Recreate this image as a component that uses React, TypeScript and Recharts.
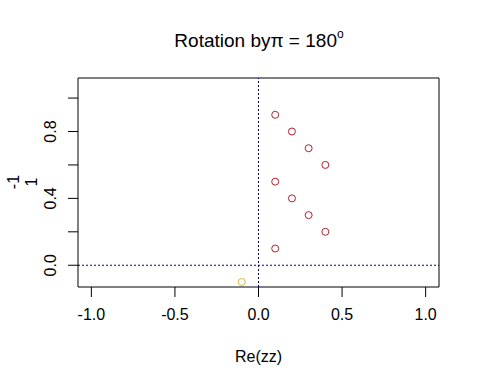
import { ScatterChart, Scatter, XAxis, YAxis, ReferenceLine, ReferenceArea } from "recharts"

// original points
const reZ = [0.1, 0.2, 0.3, 0.4, 0.1, 0.2, 0.3, 0.4, 0.1]
const imZ = [0.9, 0.8, 0.7, 0.6, 0.5, 0.4, 0.3, 0.2, 0.1]
// rotated point
const reRot = [-0.1]
const imRot = [-0.1]

const xTicks = [-1, -0.5, 0, 0.5, 1]
const yTicks = [0, 0.2, 0.4, 0.6, 0.8, 1.0]
const yLabelled = [0, 0.4, 0.8]

const font = "Arial, 'Liberation Sans', sans-serif"

const pts = reZ.map((x, i) => ({ x, y: imZ[i] }))
const rotPts = reRot.map((x, i) => ({ x, y: imRot[i] }))

const ring = (color: string) => (props: any) => (
  <circle cx={props.cx} cy={props.cy} r={3.5} fill="none" stroke={color} strokeWidth={1} />
)

const YTick = (props: any) => {
  const { x, y, payload } = props
  if (!yLabelled.some((v) => Math.abs(v - payload.value) < 1e-9)) return <g />
  return (
    <text x={x + 1} y={y} transform={`rotate(-90, ${x + 1}, ${y})`} textAnchor="middle" fontSize={16} fontFamily={font} fill="#000">
      {payload.value.toFixed(1)}
    </text>
  )
}

export default function App() {
  return (
    <div style={{ position: "absolute", left: 0, top: 0, width: 480, height: 384, background: "#fff" }}>
      <ScatterChart width={480} height={384} margin={{ top: 78, right: 41, bottom: 0, left: 0 }}>
        <XAxis
          type="number"
          dataKey="x"
          domain={[-1.08, 1.08]}
          ticks={xTicks}
          allowDataOverflow
          height={97}
          axisLine={false}
          tickLine={{ stroke: "#000" }}
          tickSize={10}
          tickMargin={12}
          tickFormatter={(v: number) => v.toFixed(1)}
          tick={{ fill: "#000", fontSize: 16, fontFamily: font }}
          label={{ value: "Re(zz)", position: "insideBottom", offset: 22, fill: "#000", fontSize: 16, fontFamily: font }}
        />
        <YAxis
          type="number"
          dataKey="y"
          domain={[-0.13, 1.12]}
          ticks={yTicks}
          allowDataOverflow
          width={78}
          axisLine={false}
          tickLine={{ stroke: "#000" }}
          tickSize={10}
          tickMargin={13}
          tick={YTick}
        />
        <ReferenceArea x1={-1.08} x2={1.08} y1={-0.13} y2={1.12} fill="none" stroke="#000" strokeWidth={1} ifOverflow="visible" />
        <ReferenceLine x={0} stroke="#000080" strokeDasharray="2 2" />
        <ReferenceLine y={0} stroke="#000080" strokeDasharray="2 2" />
        <Scatter data={pts} shape={ring("#b51f2e")} isAnimationActive={false} />
        <Scatter data={rotPts} shape={ring("#d9b440")} isAnimationActive={false} />
      </ScatterChart>
      <svg width={480} height={384} style={{ position: "absolute", left: 0, top: 0, pointerEvents: "none" }}>
        <text x={259} y={47} textAnchor="middle" fontSize={19} fontFamily={font} fill="#000">
          Rotation by<tspan>π</tspan>
          <tspan> = 180</tspan>
          <tspan dy={-9} fontSize={12}>o</tspan>
        </text>
        <text transform="rotate(-90, 19, 182)" x={19} y={182} textAnchor="middle" fontSize={16} fontFamily={font} fill="#000">
          <tspan x={19} dy={0}>-1</tspan>
          <tspan x={19} dy={18}>1</tspan>
        </text>
      </svg>
    </div>
  )
}
